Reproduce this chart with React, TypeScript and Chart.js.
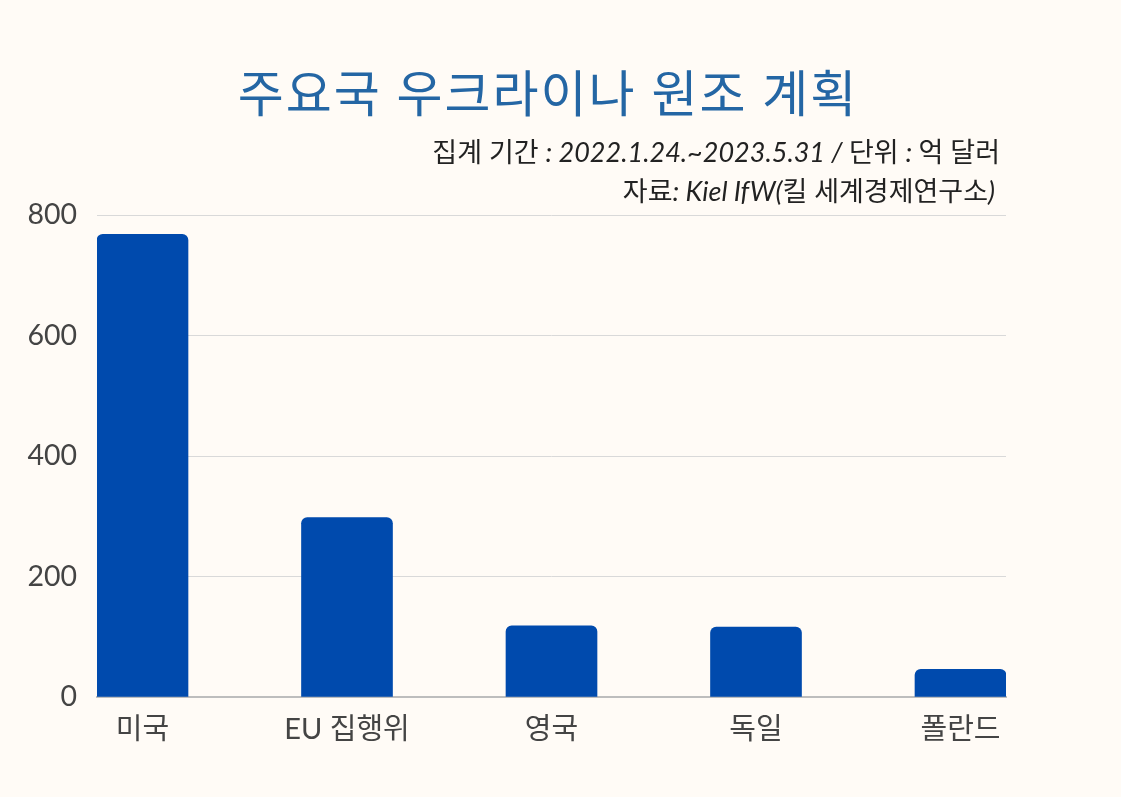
import React, { useEffect, useRef } from "react";
import { Chart, registerables } from "chart.js";

Chart.register(...registerables);

const categories = ["미국", "EU 집행위", "영국", "독일", "폴란드"];
const aidValues = [768, 298, 118, 116, 46];
const yTicks = [0, 200, 400, 600, 800];
const titleText = "주요국 우크라이나 원조 계획";
const subtitleLines = [
  "집계 기간 : 2022.1.24.~2023.5.31 / 단위 : 억 달러",
  "자료: Kiel IfW(킬 세계경제연구소)",
];

const BG = "#fffbf6";
const FONT = "Lato, 'Noto Sans CJK KR', sans-serif";

const textPlugin = {
  id: "customText",
  afterDraw(chart: any) {
    const ctx = chart.ctx;
    ctx.save();
    // Title
    ctx.font = `50px ${FONT}`;
    (ctx as any).letterSpacing = "2px";
    ctx.fillStyle = "#2466a4";
    ctx.textAlign = "center";
    ctx.textBaseline = "middle";
    ctx.fillText(titleText, 548, 96);
    (ctx as any).letterSpacing = "0px";

    // Subtitles, right aligned, Hangul upright, others italic
    const size = 27;
    const rightXs = [1000, 995];
    const ys = [153, 192];
    ctx.textAlign = "left";
    ctx.fillStyle = "#222222";
    subtitleLines.forEach((line, li) => {
      const runs: { t: string; it: boolean }[] = [];
      for (const ch of line) {
        const isHangul = /[\uAC00-\uD7A3]/.test(ch);
        const it = !isHangul && ch !== " " ? true : !isHangul && runs.length > 0 ? runs[runs.length - 1].it : false;
        if (runs.length && runs[runs.length - 1].it === it) runs[runs.length - 1].t += ch;
        else runs.push({ t: ch, it });
      }
      const widths = runs.map((r) => {
        ctx.font = `${r.it ? "italic " : ""}${size}px ${FONT}`;
        return ctx.measureText(r.t).width;
      });
      const total = widths.reduce((a, b) => a + b, 0);
      let x = rightXs[li] - total;
      runs.forEach((r, i) => {
        ctx.font = `${r.it ? "italic " : ""}${size}px ${FONT}`;
        ctx.fillText(r.t, x, ys[li]);
        x += widths[i];
      });
    });
    ctx.restore();
  },
};

const bgPlugin = {
  id: "bg",
  beforeDraw(chart: any) {
    const ctx = chart.ctx;
    ctx.save();
    ctx.fillStyle = BG;
    ctx.fillRect(0, 0, chart.width, chart.height);
    ctx.restore();
  },
};

export default function App() {
  const ref = useRef<HTMLCanvasElement>(null);
  useEffect(() => {
    document.body.style.margin = "0";
    document.body.style.background = BG;
    const chart = new Chart(ref.current!, {
      type: "bar",
      data: {
        datasets: [
          {
            data: aidValues.map((v, i) => ({ x: i, y: v })),
            backgroundColor: "#004aad",
            borderRadius: { topLeft: 6, topRight: 6, bottomLeft: 0, bottomRight: 0 },
            borderSkipped: "start",
            barThickness: 91,
          },
        ],
      },
      options: {
        animation: false,
        responsive: false,
        layout: { padding: { top: 215, right: 115, left: 0, bottom: 0 } },
        plugins: { legend: { display: false }, tooltip: { enabled: false }, title: { display: false } },
        scales: {
          x: {
            type: "linear",
            offset: false,
            min: -0.2225,
            max: 4.2225,
            afterBuildTicks: (axis: any) => {
              axis.ticks = categories.map((_, i) => ({ value: i }));
            },
            afterFit: (axis: any) => {
              axis.height = 100;
            },
            grid: { display: false, drawTicks: false, offset: false },
            border: { display: true, color: "#bdbdbd", width: 2 },
            ticks: {
              padding: 15,
              color: "#444444",
              font: { family: FONT, size: 29 },
              maxRotation: 0,
              autoSkip: false,
              callback: (v: any) => categories[Math.round(Number(v))] ?? "",
            },
          },
          y: {
            min: 0,
            max: 800,
            afterBuildTicks: (axis: any) => {
              axis.ticks = yTicks.map((v) => ({ value: v }));
            },
            afterFit: (axis: any) => {
              axis.width = 97;
            },
            grid: { color: "#d9d9d9", lineWidth: 1, drawTicks: false },
            border: { display: false },
            ticks: {
              padding: 20,
              color: "#444444",
              font: { family: FONT, size: 28.5 },
            },
          },
        },
      },
      plugins: [bgPlugin, textPlugin],
    } as any);
    return () => chart.destroy();
  }, []);
  return <canvas ref={ref} width={1121} height={797} style={{ display: "block" }} />;
}
